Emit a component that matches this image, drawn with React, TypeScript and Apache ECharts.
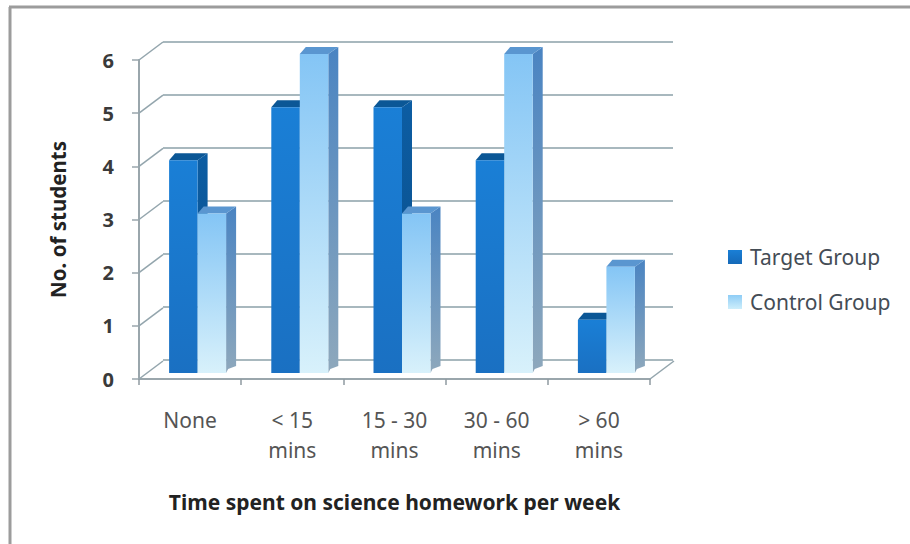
import React, { useEffect, useRef } from "react";
import * as echarts from "echarts";

const categories = ["None", "< 15\nmins", "15 - 30\nmins", "30 - 60\nmins", "> 60\nmins"];
const targetGroup = [4, 5, 5, 4, 1];
const controlGroup = [3, 6, 3, 6, 2];
const wallTicks = [0, 1, 2, 3, 4, 5, 6];

const FONT = "'Noto Sans', sans-serif";
const WALL_DX = 24;
const WALL_DY = 18;
const BAR_W = 28.5;
const BAR_DX = 10;
const BAR_DY = 7;
const BAR_SHIFT_X = 7.5;
const BAR_SHIFT_Y = 6;

const vertical = (top: string, bottom: string) =>
  new echarts.graphic.LinearGradient(0, 0, 0, 1, [
    { offset: 0, color: top },
    { offset: 1, color: bottom },
  ]);

type Palette = { front: any; side: any; top: string };

const targetPalette: Palette = {
  front: vertical("#1a7fd6", "#1a70c2"),
  side: vertical("#0c5da3", "#0a4c86"),
  top: "#0b5796",
};
const controlPalette: Palette = {
  front: vertical("#84c5f5", "#d8f1fb"),
  side: vertical("#4a84c2", "#8ea8bc"),
  top: "#5a96d0",
};

// One extruded bar: front face, right side and top, offset from the band centre.
const barRenderer = (slot: number, palette: Palette) => (_: any, api: any) => {
  const top = api.coord([api.value(0), api.value(1)]);
  const base = api.coord([api.value(0), 0]);
  const x0 = top[0] + BAR_SHIFT_X + slot * BAR_W;
  const x1 = x0 + BAR_W;
  const yTop = top[1] - BAR_SHIFT_Y;
  const yBase = base[1] - BAR_SHIFT_Y;
  return {
    type: "group",
    children: [
      {
        type: "polygon",
        shape: {
          points: [
            [x1, yTop],
            [x1 + BAR_DX, yTop - BAR_DY],
            [x1 + BAR_DX, yBase - BAR_DY],
            [x1 + 2, yBase - 4],
            [x1, yBase],
          ],
        },
        style: { fill: palette.side },
      },
      {
        type: "polygon",
        shape: {
          points: [
            [x0, yTop],
            [x0 + 6, yTop - BAR_DY],
            [x1 + BAR_DX, yTop - BAR_DY],
            [x1, yTop],
          ],
        },
        style: { fill: palette.top },
      },
      {
        type: "rect",
        shape: { x: x0, y: yTop, width: BAR_W, height: yBase - yTop },
        style: { fill: palette.front },
      },
    ],
  };
};

// Diagonal strokes joining the front axis to the back wall, plus the floor's right edge.
const wallEdgeRenderer = (params: any, api: any) => {
  const value = api.value(0);
  const p = api.coord([0, value]);
  const band = api.size([1, 0])[0];
  const left = p[0] - band / 2;
  const lineStyle = { stroke: "#93a5ad", lineWidth: 1.5, fill: "none" };
  const children: any[] = [
    {
      type: "line",
      shape: { x1: left, y1: p[1], x2: left + WALL_DX, y2: p[1] - WALL_DY },
      style: lineStyle,
    },
  ];
  if (value === 0) {
    const right = left + band * categories.length;
    children.push({
      type: "line",
      shape: { x1: right, y1: p[1], x2: right + WALL_DX, y2: p[1] - WALL_DY },
      style: lineStyle,
    });
  }
  return { type: "group", children };
};

export default function App() {
  const ref = useRef<HTMLDivElement>(null);

  useEffect(() => {
    const chart = echarts.init(ref.current!, undefined, { renderer: "svg" });
    const frame = { stroke: "#9c9c9c", lineWidth: 3 };
    chart.setOption({
      animation: false,
      backgroundColor: "#ffffff",
      textStyle: { fontFamily: FONT },
      legend: {
        orient: "vertical",
        left: 723,
        top: 239,
        itemWidth: 14,
        itemHeight: 14,
        itemGap: 19,
        icon: "rect",
        data: ["Target Group", "Control Group"],
        textStyle: { fontFamily: FONT, fontSize: 21, lineHeight: 26, color: "#444c55", padding: [0, 0, 0, 3] },
      },
      grid: [
        { left: 139, top: 60, width: 511, height: 319 },
        { left: 163, top: 42, width: 510, height: 318 },
      ],
      xAxis: [
        {
          type: "category",
          gridIndex: 0,
          data: categories,
          axisTick: { show: true, alignWithLabel: false, length: 6, lineStyle: { color: "#8f9aa0", width: 1.5 } },
          axisLine: { lineStyle: { color: "#9aa6ac", width: 2 } },
          axisLabel: {
            interval: 0,
            margin: 26,
            fontFamily: FONT,
            fontSize: 21,
            lineHeight: 30,
            color: "#555555",
          },
          name: "Time spent on science homework per week",
          nameLocation: "middle",
          nameGap: 112,
          nameTextStyle: { fontFamily: FONT, fontSize: 21, fontWeight: "bold", color: "#222222" },
        },
        { type: "category", gridIndex: 1, data: categories, show: false },
      ],
      yAxis: [
        {
          type: "value",
          gridIndex: 0,
          min: 0,
          max: 6,
          interval: 1,
          splitLine: { show: false },
          axisLine: { show: true, lineStyle: { color: "#9aa6ac", width: 2 } },
          axisTick: { show: true, length: 7, lineStyle: { color: "#9aa6ac", width: 1.5 } },
          axisLabel: {
            margin: 25,
            padding: [4, 0, 0, 0],
            fontFamily: FONT,
            fontSize: 20,
            fontWeight: "bold",
            color: "#3a3a3a",
          },
          name: "No. of students",
          nameLocation: "middle",
          nameGap: 71,
          nameTextStyle: { fontFamily: FONT, fontSize: 20.5, fontWeight: "bold", color: "#222222" },
        },
        {
          type: "value",
          gridIndex: 1,
          min: 0,
          max: 6,
          interval: 1,
          axisLine: { show: false },
          axisTick: { show: false },
          axisLabel: { show: false },
          splitLine: { show: true, lineStyle: { color: "#8ba0a8", width: 1.5 } },
        },
      ],
      series: [
        {
          name: "walls",
          type: "custom",
          xAxisIndex: 0,
          yAxisIndex: 0,
          silent: true,
          data: wallTicks.map((t) => [t]),
          encode: { y: 0 },
          renderItem: wallEdgeRenderer,
          z: 1,
        },
        {
          name: "Target Group",
          type: "custom",
          xAxisIndex: 0,
          yAxisIndex: 0,
          itemStyle: { color: vertical("#1a7fd6", "#1569b8") },
          data: targetGroup.map((v, i) => [i, v]),
          encode: { x: 0, y: 1 },
          renderItem: barRenderer(-1, targetPalette),
          z: 3,
        },
        {
          name: "Control Group",
          type: "custom",
          xAxisIndex: 0,
          yAxisIndex: 0,
          itemStyle: { color: vertical("#8fcdf6", "#cdeefb") },
          data: controlGroup.map((v, i) => [i, v]),
          encode: { x: 0, y: 1 },
          renderItem: barRenderer(0, controlPalette),
          z: 4,
        },
      ],
      graphic: [
        { type: "line", shape: { x1: 9, y1: 7, x2: 910, y2: 7 }, style: frame },
        { type: "line", shape: { x1: 10, y1: 7, x2: 10, y2: 544 }, style: frame },
      ],
    });
    return () => chart.dispose();
  }, []);

  return <div ref={ref} style={{ position: "fixed", left: 0, top: 0, width: 910, height: 544 }} />;
}
